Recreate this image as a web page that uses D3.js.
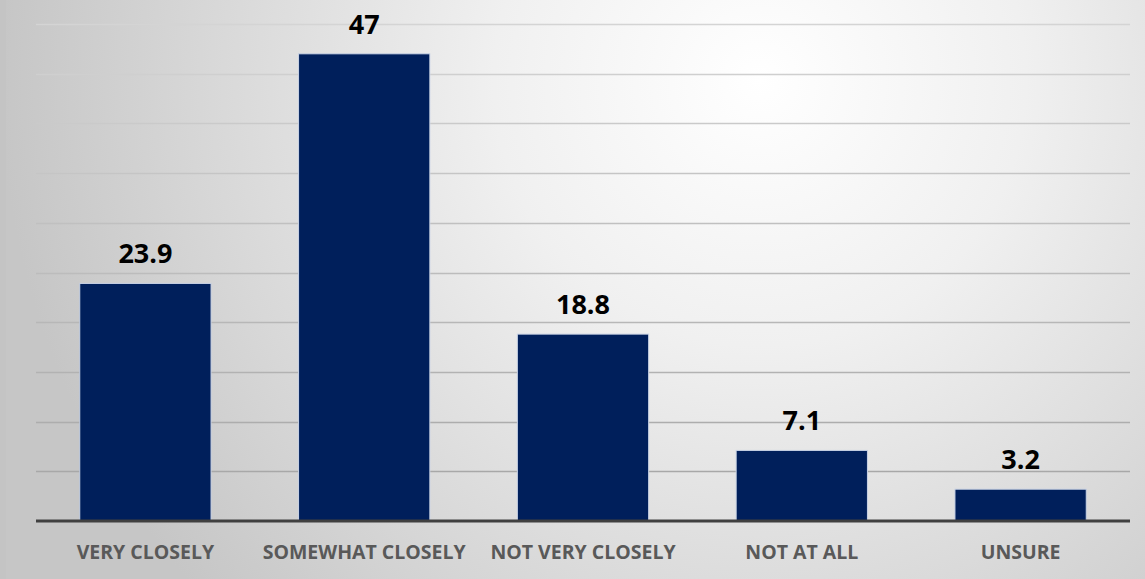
<!DOCTYPE html>
<html><head><meta charset="utf-8">
<script src="https://cdn.jsdelivr.net/npm/d3@7"></script>
<style>html,body{margin:0;padding:0;overflow:hidden;background:#fff}</style>
</head><body>
<svg id="chart" width="1145" height="579"></svg>
<script>
const categories = ["VERY CLOSELY","SOMEWHAT CLOSELY","NOT VERY CLOSELY","NOT AT ALL","UNSURE"];
const values = [23.9, 47, 18.8, 7.1, 3.2];
const valueLabels = ["23.9","47","18.8","7.1","3.2"];
const gridTicks = [5,10,15,20,25,30,35,40,45,50];

(function(){
const W = 1145, H = 579;
const svg = d3.select("#chart");
const defs = svg.append("defs");
const rg = defs.append("radialGradient").attr("id","bg")
  .attr("gradientUnits","userSpaceOnUse").attr("cx",760).attr("cy",80).attr("r",760);
rg.append("stop").attr("offset","0%").attr("stop-color","#ffffff");
rg.append("stop").attr("offset","35%").attr("stop-color","#f0f0f0");
rg.append("stop").attr("offset","100%").attr("stop-color","#c6c6c6");
svg.append("rect").attr("width",W).attr("height",H).attr("fill","url(#bg)");
svg.append("rect").attr("x",0).attr("y",0).attr("width",6).attr("height",H).attr("fill","#c4c4c4");

const mLeft = 36, mRight = 1130, mTop = 24, mBottom = 521;
const x = d3.scaleBand().domain(categories).range([mLeft,mRight]).paddingInner(0.4).paddingOuter(0.2);
const y = d3.scaleLinear().domain([0,50]).range([mBottom, mTop]);

const colorFor = d3.scaleLinear().domain([50,5]).range(["#d4d4d4","#a8a8a8"]);
svg.append("g").selectAll("line").data(gridTicks).join("line")
  .attr("x1",mLeft).attr("x2",mRight)
  .attr("y1",d=>Math.round(y(d))+0.5).attr("y2",d=>Math.round(y(d))+0.5)
  .attr("stroke",d=>colorFor(d)).attr("stroke-width",1.5);

svg.append("g").selectAll("rect").data(values).join("rect")
  .attr("x",(d,i)=>x(categories[i]))
  .attr("width",x.bandwidth())
  .attr("y",d=>y(d))
  .attr("height",d=>mBottom-y(d))
  .attr("fill","#001f5b")
  .attr("stroke","#c9d3e6").attr("stroke-width",1);

svg.append("line").attr("x1",mLeft).attr("x2",mRight).attr("y1",mBottom).attr("y2",mBottom)
  .attr("stroke","#404040").attr("stroke-width",3);

svg.append("g").selectAll("text").data(values).join("text")
  .attr("x",(d,i)=>x(categories[i])+x.bandwidth()/2)
  .attr("y",d=>y(d)-20)
  .attr("text-anchor","middle")
  .attr("font-family","'Open Sans', 'Liberation Sans', sans-serif")
  .attr("font-weight","bold").attr("font-size",27).attr("fill","#000")
  .text((d,i)=>valueLabels[i]);

const ax = svg.append("g").attr("transform",`translate(0,${mBottom})`)
  .call(d3.axisBottom(x).tickSize(0).tickPadding(24));
ax.select(".domain").remove();
ax.selectAll("text")
  .attr("font-family","'Open Sans', 'Liberation Sans', sans-serif")
  .attr("font-weight","bold").attr("font-size",19.5).attr("fill","#595959");
})();
</script>
</body></html>
